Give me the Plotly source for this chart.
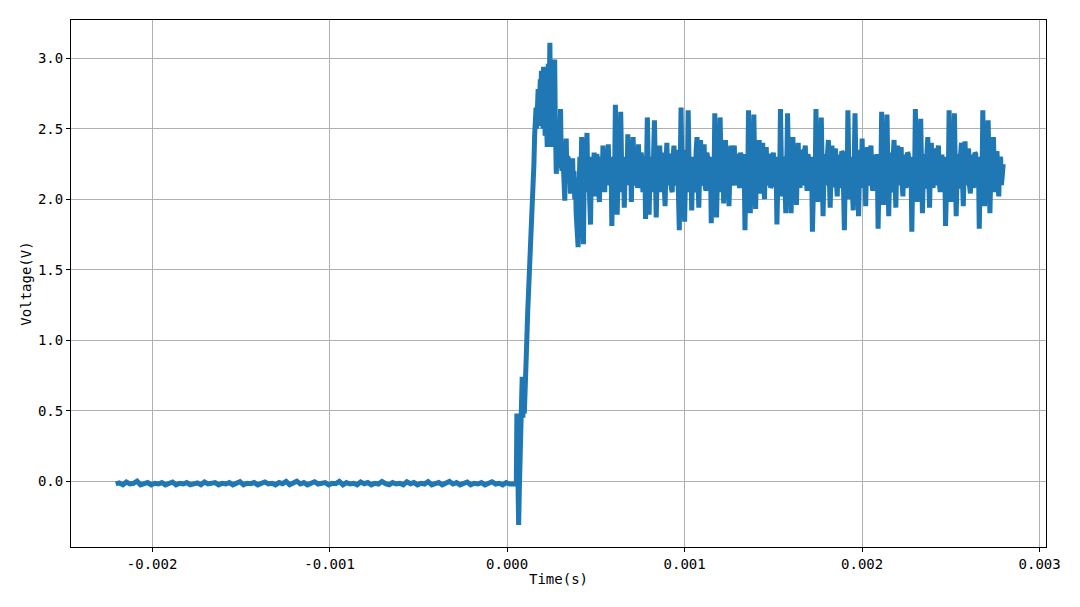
import numpy as np
import plotly.graph_objects as go

# ---------------- data ----------------
# Pre-trigger baseline: start time, sample step (s), voltages (V)
base_t0 = -2.205e-3
base_dt = 2e-5
base_v = [
    -0.02, -0.012, -0.026, -0.006, -0.02, -0.015, 0.0, -0.026, -0.018, -0.01,
    -0.026, -0.015, -0.02, -0.01, -0.026, -0.018, -0.006, -0.026, -0.015, -0.02,
    -0.01, -0.026, -0.018, -0.012, -0.026, -0.006, -0.02, -0.018, -0.01, -0.026,
    -0.015, -0.02, -0.01, -0.026, -0.018, -0.004, -0.026, -0.015, -0.018, -0.01,
    -0.026, -0.018, -0.006, -0.02, -0.015, -0.026, -0.01, -0.018, -0.002, -0.026,
    -0.015, 0.0, -0.02, -0.01, -0.026, -0.015, -0.004, -0.02, -0.018, -0.01,
    -0.026, -0.015, -0.018, -0.002, -0.026, -0.01, -0.02, -0.015, -0.026, -0.006,
    -0.018, -0.01, -0.026, -0.015, -0.02, -0.002, -0.018, -0.026, -0.01, -0.02,
    -0.015, -0.026, -0.004, -0.018, -0.01, -0.026, -0.015, -0.02, -0.004, -0.026,
    -0.018, -0.01, -0.026, -0.015, -0.002, -0.02, -0.01, -0.026, -0.018, -0.006,
    -0.026, -0.015, -0.02, -0.01, -0.026, -0.018, -0.004, -0.02, -0.015, -0.026,
    -0.01, -0.02, -0.018,
]

# Switching transient: times (ms) and voltages (V)
trans_t_ms = [
    0.052, 0.055, 0.058, 0.061, 0.065, 0.069, 0.073, 0.077, 0.081, 0.085,
    0.089, 0.093, 0.097, 0.101, 0.106, 0.111, 0.116, 0.121, 0.126, 0.131,
    0.136, 0.141, 0.146, 0.151, 0.155, 0.159, 0.163, 0.166, 0.169, 0.172,
    0.175, 0.178, 0.181, 0.184, 0.187, 0.190, 0.193, 0.196, 0.199, 0.202,
    0.205, 0.208, 0.211, 0.214, 0.217, 0.220, 0.223, 0.226, 0.229, 0.232,
    0.235, 0.237, 0.239, 0.241, 0.243, 0.245, 0.246, 0.248, 0.250, 0.2515,
    0.253, 0.256, 0.259, 0.262, 0.265, 0.268, 0.271, 0.274, 0.277, 0.281,
    0.285, 0.289, 0.293, 0.297, 0.301, 0.305, 0.309, 0.313, 0.317, 0.321,
    0.325, 0.329, 0.333, 0.337, 0.341, 0.345, 0.349, 0.353, 0.357, 0.361,
    0.365, 0.369, 0.373, 0.377, 0.381, 0.385, 0.389, 0.393,
]
trans_v = [
    -0.02, 0.48, 0.05, -0.05, -0.31, -0.05, 0.20, 0.43, 0.35, 0.74,
    0.45, 0.72, 0.48, 0.74, 0.90, 1.00, 1.20, 1.35, 1.45, 1.55,
    1.64, 1.85, 2.10, 2.25, 2.45, 2.55, 2.65, 2.50, 2.72, 2.55,
    2.78, 2.52, 2.82, 2.60, 2.85, 2.55, 2.91, 2.62, 2.88, 2.50,
    2.94, 2.70, 2.85, 2.45, 2.63, 2.80, 2.50, 2.37, 2.75, 2.96,
    2.60, 2.90, 2.75, 3.11, 2.80, 2.95, 2.41, 2.60, 2.45, 2.37,
    2.55, 2.85, 2.98, 2.70, 2.90, 2.99, 2.60, 2.40, 2.18, 2.35,
    2.22, 2.41, 2.28, 2.35, 2.64, 2.30, 2.20, 2.36, 2.12, 2.20,
    1.99, 2.30, 2.43, 2.15, 2.30, 2.29, 2.12, 2.20, 2.04, 2.22,
    2.15, 2.29, 2.10, 2.20, 2.00, 2.15, 1.90, 1.75,
]

# Settled ringing: start time, sample step (s), voltages (V)
steady_t0 = 0.400e-3
steady_dt = 5e-6
steady_v = [
    1.66, 2.05, 2.30, 2.10, 2.44, 2.00, 1.68, 2.25, 2.10, 2.30, 2.47, 2.05, 2.25, 2.00, 1.82, 2.30, 2.20, 2.08, 2.33, 2.12,
    2.02, 2.32, 2.28, 2.08, 1.98, 2.25, 2.30, 2.10, 2.38, 2.15, 2.05, 2.35, 2.32, 2.12, 2.39, 2.15, 2.10, 2.30, 1.81, 2.12,
    2.30, 2.10, 2.67, 2.25, 1.89, 2.15, 2.30, 2.08, 2.62, 2.25, 2.05, 2.30, 1.94, 2.20, 2.30, 2.12, 2.46, 2.20, 2.10, 2.32,
    1.98, 2.28, 2.44, 2.10, 2.12, 2.35, 2.30, 2.08, 2.39, 2.15, 2.08, 2.33, 2.28, 2.05, 2.10, 2.30, 1.86, 2.20, 2.58, 2.25,
    1.89, 2.20, 2.30, 2.05, 2.15, 2.30, 2.56, 2.20, 1.87, 2.15, 2.30, 2.08, 2.38, 2.12, 2.05, 2.33, 2.28, 2.10, 1.95, 2.25,
    2.40, 2.15, 2.10, 2.32, 2.30, 2.08, 2.05, 2.30, 2.38, 2.10, 2.12, 2.35, 2.25, 2.05, 1.78, 2.25, 2.65, 2.20, 2.00, 2.30,
    1.84, 2.15, 2.35, 2.10, 2.63, 2.25, 2.05, 2.30, 1.92, 2.20, 2.30, 2.05, 2.10, 2.35, 2.44, 2.15, 1.94, 2.22, 2.42, 2.10,
    2.12, 2.32, 2.39, 2.10, 2.06, 2.33, 2.30, 2.08, 2.15, 2.30, 1.83, 2.15, 2.28, 2.05, 2.61, 2.25, 1.87, 2.18, 2.32, 2.08,
    2.58, 2.25, 2.05, 2.30, 1.97, 2.20, 2.42, 2.12, 2.08, 2.30, 1.95, 2.20, 2.38, 2.10, 2.12, 2.34, 2.38, 2.12, 2.10, 2.30,
    2.32, 2.12, 2.08, 2.33, 2.30, 2.10, 2.15, 2.32, 1.78, 2.15, 2.30, 2.05, 2.63, 2.25, 1.90, 2.20, 2.25, 2.05, 2.60, 2.22,
    1.93, 2.20, 2.30, 2.10, 2.42, 2.18, 2.04, 2.30, 2.40, 2.15, 2.00, 2.28, 2.37, 2.10, 2.12, 2.32, 2.30, 2.08, 2.10, 2.30,
    2.33, 2.10, 2.15, 2.30, 1.82, 2.12, 2.25, 2.08, 2.64, 2.25, 2.02, 2.28, 2.30, 2.10, 1.90, 2.20, 2.61, 2.25, 2.05, 2.30,
    1.90, 2.20, 2.44, 2.15, 2.10, 2.30, 1.96, 2.22, 2.40, 2.12, 2.08, 2.32, 2.35, 2.10, 2.12, 2.33, 2.38, 2.15, 2.06, 2.32,
    2.28, 2.08, 2.15, 2.30, 1.77, 2.12, 2.30, 2.05, 2.64, 2.22, 1.98, 2.25, 2.28, 2.08, 2.58, 2.20, 1.88, 2.18, 2.32, 2.12,
    2.10, 2.32, 2.42, 2.15, 1.94, 2.22, 2.38, 2.10, 2.10, 2.32, 2.36, 2.12, 2.02, 2.30, 2.30, 2.08, 2.12, 2.34, 2.33, 2.10,
    1.78, 2.15, 2.28, 2.08, 2.63, 2.22, 2.00, 2.30, 2.25, 2.05, 1.92, 2.20, 2.61, 2.25, 2.05, 2.30, 1.88, 2.18, 2.35, 2.12,
    2.43, 2.15, 2.08, 2.32, 1.95, 2.22, 2.37, 2.10, 2.12, 2.33, 2.38, 2.12, 2.06, 2.30, 2.30, 2.08, 2.13, 2.32, 1.79, 2.12,
    2.30, 2.08, 2.62, 2.25, 1.96, 2.20, 2.28, 2.06, 2.60, 2.22, 1.88, 2.18, 2.33, 2.10, 2.05, 2.30, 2.42, 2.15, 1.94, 2.22,
    2.38, 2.12, 2.10, 2.33, 2.37, 2.12, 2.02, 2.30, 2.30, 2.08, 2.14, 2.33, 2.32, 2.10, 2.10, 2.30, 1.77, 2.15, 2.30, 2.08,
    2.64, 2.25, 1.98, 2.28, 2.27, 2.06, 2.57, 2.22, 1.90, 2.18, 2.32, 2.10, 2.08, 2.32, 2.44, 2.15, 1.94, 2.22, 2.40, 2.12,
    2.08, 2.32, 2.36, 2.10, 2.12, 2.33, 2.38, 2.12, 2.05, 2.30, 2.30, 2.08, 2.15, 2.30, 1.81, 2.15, 2.30, 2.06, 2.63, 2.25,
    1.98, 2.28, 2.25, 2.05, 2.61, 2.22, 1.88, 2.18, 2.32, 2.10, 2.08, 2.32, 2.40, 2.15, 1.95, 2.22, 2.41, 2.12, 2.10, 2.32,
    2.36, 2.10, 2.04, 2.30, 2.30, 2.08, 2.12, 2.33, 2.32, 2.10, 2.10, 2.30, 1.79, 2.15, 2.30, 2.06, 2.63, 2.25, 1.95, 2.22,
    2.28, 2.06, 2.56, 2.22, 1.90, 2.18, 2.33, 2.10, 2.44, 2.15, 2.05, 2.32, 2.34, 2.10, 2.02, 2.28, 2.30, 2.10, 2.20, 2.25,
]

x_tickvals = [-0.002, -0.001, 0.0, 0.001, 0.002, 0.003]
x_ticktext = ["-0.002", "-0.001", "0.000", "0.001", "0.002", "0.003"]
y_tickvals = [0.0, 0.5, 1.0, 1.5, 2.0, 2.5, 3.0]
y_ticktext = ["0.0", "0.5", "1.0", "1.5", "2.0", "2.5", "3.0"]

# ---------------- build ----------------
t = np.concatenate([
    base_t0 + np.arange(len(base_v)) * base_dt,
    np.array(trans_t_ms) * 1e-3,
    steady_t0 + np.arange(len(steady_v)) * steady_dt,
])
v = np.concatenate([base_v, trans_v, steady_v])

FONT = "DejaVu Sans Mono"

fig = go.Figure()
fig.add_trace(go.Scatter(
    x=t, y=v, mode="lines",
    line=dict(color="#1f77b4", width=5),
    showlegend=False, hoverinfo="skip",
))

axis_common = dict(
    showgrid=True, gridcolor="#b0b0b0", gridwidth=0.8,
    showline=True, linecolor="#000000", linewidth=1, mirror=True,
    ticks="outside", ticklen=4, tickwidth=1, tickcolor="#000000",
    zeroline=False,
    tickfont=dict(family=FONT, size=14, color="#000000"),
)

# page body has an 8 px margin, so the figure is sized to place the
# plotting area where the reference has it
fig.update_layout(
    width=1064, height=591,
    margin=dict(l=63, r=20, t=11, b=52),
    paper_bgcolor="white", plot_bgcolor="white",
    xaxis=dict(
        range=[-0.002457, 0.003036],
        tickvals=x_tickvals, ticktext=x_ticktext,
        title=dict(text="Time(s)", font=dict(family=FONT, size=14, color="#000000"), standoff=3),
        **axis_common,
    ),
    yaxis=dict(
        range=[-0.467, 3.271],
        tickvals=y_tickvals, ticktext=y_ticktext,
        title=dict(text="Voltage(V)", font=dict(family=FONT, size=14, color="#000000"), standoff=3),
        **axis_common,
    ),
)

fig.write_html("out.html")
